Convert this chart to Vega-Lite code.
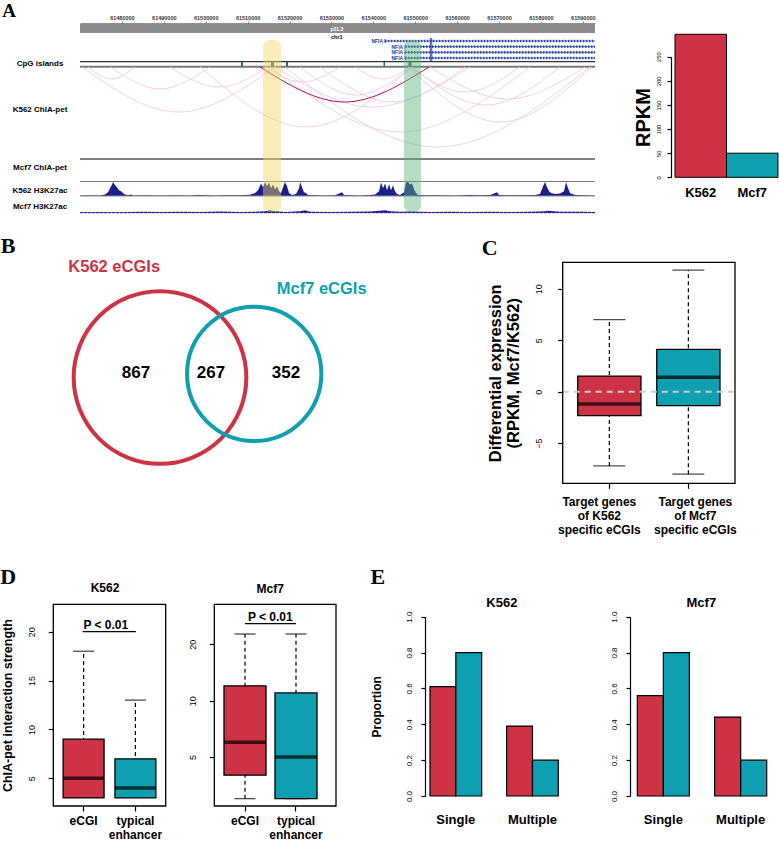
{
"$schema": "https://vega.github.io/schema/vega-lite/v6.json",
"width": 779, "height": 844, "autosize": "none", "padding": 0, "background": "white",
"config": {
  "view": {"stroke": null},
  "legend": {"disable": true},
  "font": "Liberation Sans",
  "axis": {"grid": false, "domain": false, "ticks": false, "labelFont": "Liberation Sans", "titleFont": "Liberation Sans", "domainColor": "black", "tickColor": "black", "labelColor": "black", "titleColor": "black", "domainWidth": 1.2, "tickWidth": 1.2},
  "text": {"font": "Liberation Sans", "fontWeight": "bold"}
},
"datasets": {
  "ideogram": [{"chrom": "chr1", "band": "p31.3", "start": 61470000, "end": 61592900}],
  "transcripts": [
    {"gene": "NFIA", "tx": "1", "start": 61542800, "end": 61592900},
    {"gene": "NFIA", "tx": "2", "start": 61547600, "end": 61592900},
    {"gene": "NFIA", "tx": "3", "start": 61547600, "end": 61592900},
    {"gene": "NFIA", "tx": "4", "start": 61547600, "end": 61592900}],
  "cpg": [
    {"start": 61508420, "end": 61508900}, {"start": 61515580, "end": 61516300},
    {"start": 61519160, "end": 61519640}, {"start": 61542430, "end": 61542790},
    {"start": 61548400, "end": 61549100}],
  "arcs": [
    {"arc": "a02", "strength": "weak", "pos": 61470480, "height": 0}, {"arc": "a02", "strength": "weak", "pos": 61493510, "height": 45}, {"arc": "a02", "strength": "weak", "pos": 61516540, "height": 0},
    {"arc": "a03", "strength": "weak", "pos": 61471910, "height": 0}, {"arc": "a03", "strength": "weak", "pos": 61477520, "height": 12}, {"arc": "a03", "strength": "weak", "pos": 61483130, "height": 0},
    {"arc": "a04", "strength": "weak", "pos": 61477160, "height": 0}, {"arc": "a04", "strength": "weak", "pos": 61489095, "height": 22}, {"arc": "a04", "strength": "weak", "pos": 61501030, "height": 0},
    {"arc": "a05", "strength": "weak", "pos": 61491480, "height": 0}, {"arc": "a05", "strength": "weak", "pos": 61503175, "height": 20}, {"arc": "a05", "strength": "weak", "pos": 61514870, "height": 0},
    {"arc": "a06", "strength": "weak", "pos": 61514150, "height": 0}, {"arc": "a06", "strength": "weak", "pos": 61523100, "height": 15}, {"arc": "a06", "strength": "weak", "pos": 61532050, "height": 0},
    {"arc": "a07", "strength": "weak", "pos": 61516540, "height": 0}, {"arc": "a07", "strength": "weak", "pos": 61539810, "height": 40}, {"arc": "a07", "strength": "weak", "pos": 61563080, "height": 0},
    {"arc": "a08", "strength": "weak", "pos": 61518930, "height": 0}, {"arc": "a08", "strength": "weak", "pos": 61555325, "height": 80}, {"arc": "a08", "strength": "weak", "pos": 61591720, "height": 0},
    {"arc": "a09", "strength": "weak", "pos": 61548760, "height": 0}, {"arc": "a09", "strength": "weak", "pos": 61561885, "height": 25}, {"arc": "a09", "strength": "weak", "pos": 61575010, "height": 0},
    {"arc": "a10", "strength": "weak", "pos": 61549240, "height": 0}, {"arc": "a10", "strength": "weak", "pos": 61566900, "height": 38}, {"arc": "a10", "strength": "weak", "pos": 61584560, "height": 0},
    {"arc": "a11", "strength": "weak", "pos": 61548280, "height": 0}, {"arc": "a11", "strength": "weak", "pos": 61570235, "height": 55}, {"arc": "a11", "strength": "weak", "pos": 61592190, "height": 0},
    {"arc": "a12", "strength": "weak", "pos": 61522510, "height": 0}, {"arc": "a12", "strength": "weak", "pos": 61535875, "height": 28}, {"arc": "a12", "strength": "weak", "pos": 61549240, "height": 0},
    {"arc": "a13", "strength": "weak", "pos": 61553530, "height": 0}, {"arc": "a13", "strength": "weak", "pos": 61572025, "height": 32}, {"arc": "a13", "strength": "weak", "pos": 61590520, "height": 0},
    {"arc": "a14", "strength": "weak", "pos": 61498640, "height": 0}, {"arc": "a14", "strength": "weak", "pos": 61523940, "height": 60}, {"arc": "a14", "strength": "weak", "pos": 61549240, "height": 0},
    {"arc": "a15", "strength": "weak", "pos": 61527280, "height": 0}, {"arc": "a15", "strength": "weak", "pos": 61544580, "height": 35}, {"arc": "a15", "strength": "weak", "pos": 61561880, "height": 0},
    {"arc": "a16", "strength": "weak", "pos": 61535630, "height": 0}, {"arc": "a16", "strength": "weak", "pos": 61542195, "height": 12}, {"arc": "a16", "strength": "weak", "pos": 61548760, "height": 0},
    {"arc": "a17", "strength": "weak", "pos": 61515350, "height": 0}, {"arc": "a17", "strength": "weak", "pos": 61546375, "height": 65}, {"arc": "a17", "strength": "weak", "pos": 61577400, "height": 0},
    {"arc": "z01", "strength": "strong", "pos": 61512960, "height": 0}, {"arc": "z01", "strength": "strong", "pos": 61533125, "height": 35}, {"arc": "z01", "strength": "strong", "pos": 61553290, "height": 0}],
  "k562_h3k27ac": [
    {"pos": 61470000, "signal": 0.5}, {"pos": 61472390, "signal": 0.8}, {"pos": 61474770, "signal": 0.6}, {"pos": 61475970, "signal": 1.5},
    {"pos": 61476680, "signal": 4}, {"pos": 61477160, "signal": 8}, {"pos": 61477640, "signal": 12}, {"pos": 61477880, "signal": 14.5},
    {"pos": 61478350, "signal": 11}, {"pos": 61478830, "signal": 9}, {"pos": 61479310, "signal": 6}, {"pos": 61479790, "signal": 5},
    {"pos": 61480260, "signal": 3}, {"pos": 61480740, "signal": 1.5}, {"pos": 61481460, "signal": 0.7}, {"pos": 61482170, "signal": 1.5},
    {"pos": 61482650, "signal": 0.5}, {"pos": 61485510, "signal": 0.8}, {"pos": 61489090, "signal": 0.5}, {"pos": 61492670, "signal": 0.8},
    {"pos": 61496250, "signal": 0.6}, {"pos": 61498640, "signal": 1}, {"pos": 61502220, "signal": 0.6}, {"pos": 61504610, "signal": 0.9},
    {"pos": 61508190, "signal": 0.7}, {"pos": 61510570, "signal": 1.2}, {"pos": 61511770, "signal": 3}, {"pos": 61512480, "signal": 6},
    {"pos": 61513200, "signal": 13}, {"pos": 61513680, "signal": 9}, {"pos": 61514150, "signal": 14.5}, {"pos": 61514630, "signal": 10},
    {"pos": 61515110, "signal": 14}, {"pos": 61515580, "signal": 8}, {"pos": 61516060, "signal": 12}, {"pos": 61516540, "signal": 7},
    {"pos": 61517020, "signal": 10}, {"pos": 61517490, "signal": 5}, {"pos": 61517970, "signal": 3}, {"pos": 61518450, "signal": 9},
    {"pos": 61518930, "signal": 14.5}, {"pos": 61519400, "signal": 10}, {"pos": 61519880, "signal": 3}, {"pos": 61520600, "signal": 1},
    {"pos": 61521550, "signal": 2}, {"pos": 61522270, "signal": 8}, {"pos": 61522510, "signal": 14.5}, {"pos": 61522980, "signal": 9},
    {"pos": 61523460, "signal": 4}, {"pos": 61523940, "signal": 3}, {"pos": 61524410, "signal": 1}, {"pos": 61526090, "signal": 0.8},
    {"pos": 61528470, "signal": 0.6}, {"pos": 61530860, "signal": 0.8}, {"pos": 61532530, "signal": 4}, {"pos": 61533010, "signal": 1},
    {"pos": 61534440, "signal": 0.8}, {"pos": 61536830, "signal": 0.6}, {"pos": 61539210, "signal": 1}, {"pos": 61540400, "signal": 1.5},
    {"pos": 61541360, "signal": 5}, {"pos": 61541840, "signal": 14}, {"pos": 61542310, "signal": 8}, {"pos": 61542790, "signal": 13},
    {"pos": 61543270, "signal": 6}, {"pos": 61543750, "signal": 12}, {"pos": 61544220, "signal": 6}, {"pos": 61544700, "signal": 11},
    {"pos": 61545180, "signal": 5}, {"pos": 61545660, "signal": 2}, {"pos": 61546370, "signal": 1}, {"pos": 61547330, "signal": 4},
    {"pos": 61547800, "signal": 14}, {"pos": 61548280, "signal": 14.5}, {"pos": 61548760, "signal": 12}, {"pos": 61549240, "signal": 13},
    {"pos": 61549710, "signal": 7}, {"pos": 61550190, "signal": 3}, {"pos": 61550670, "signal": 1}, {"pos": 61552340, "signal": 0.7},
    {"pos": 61555920, "signal": 0.8}, {"pos": 61559500, "signal": 0.6}, {"pos": 61563080, "signal": 1}, {"pos": 61565460, "signal": 0.8},
    {"pos": 61567850, "signal": 1}, {"pos": 61569520, "signal": 4}, {"pos": 61570000, "signal": 1}, {"pos": 61571430, "signal": 0.8},
    {"pos": 61575010, "signal": 0.8}, {"pos": 61578590, "signal": 1}, {"pos": 61579780, "signal": 2}, {"pos": 61580500, "signal": 10},
    {"pos": 61580980, "signal": 14.5}, {"pos": 61581450, "signal": 9}, {"pos": 61581930, "signal": 5}, {"pos": 61582410, "signal": 3},
    {"pos": 61583360, "signal": 2}, {"pos": 61584560, "signal": 2.5}, {"pos": 61585510, "signal": 5}, {"pos": 61585990, "signal": 14.5},
    {"pos": 61586470, "signal": 8}, {"pos": 61586940, "signal": 3}, {"pos": 61588140, "signal": 1}, {"pos": 61590520, "signal": 0.8},
    {"pos": 61592900, "signal": 0.5}],
  "mcf7_h3k27ac": [
    {"pos": 61470000, "signal": 0.5}, {"pos": 61474770, "signal": 0.8}, {"pos": 61479550, "signal": 0.5}, {"pos": 61484320, "signal": 1},
    {"pos": 61489090, "signal": 0.6}, {"pos": 61493870, "signal": 1}, {"pos": 61498640, "signal": 0.7}, {"pos": 61503410, "signal": 1.2},
    {"pos": 61508190, "signal": 0.8}, {"pos": 61511770, "signal": 1}, {"pos": 61514150, "signal": 1.5}, {"pos": 61515350, "signal": 2.5},
    {"pos": 61516540, "signal": 1.5}, {"pos": 61518930, "signal": 0.8}, {"pos": 61522510, "signal": 1.5}, {"pos": 61523700, "signal": 2.5},
    {"pos": 61524890, "signal": 1}, {"pos": 61529670, "signal": 0.8}, {"pos": 61534440, "signal": 1}, {"pos": 61539210, "signal": 1.2},
    {"pos": 61541600, "signal": 2}, {"pos": 61542790, "signal": 2.5}, {"pos": 61543980, "signal": 1.5}, {"pos": 61546370, "signal": 1},
    {"pos": 61548760, "signal": 1.2}, {"pos": 61553530, "signal": 0.8}, {"pos": 61558300, "signal": 1}, {"pos": 61563080, "signal": 0.8},
    {"pos": 61567850, "signal": 1}, {"pos": 61572620, "signal": 0.8}, {"pos": 61577400, "signal": 1}, {"pos": 61580980, "signal": 1.5},
    {"pos": 61581690, "signal": 2}, {"pos": 61584560, "signal": 1}, {"pos": 61589330, "signal": 1}, {"pos": 61592900, "signal": 0.6}],
  "highlights": [
    {"highlight": "eCGI", "start": 61513680, "end": 61517970},
    {"highlight": "NFIA promoter", "start": 61547330, "end": 61551380}],
  "rpkm": [{"cell": "K562", "rpkm": 296.5}, {"cell": "Mcf7", "rpkm": 50}],
  "venn_sets": [{"set": "K562 eCGIs", "cell": "K562", "total": 1134}, {"set": "Mcf7 eCGIs", "cell": "Mcf7", "total": 619}],
  "venn_regions": [{"region": "K562 only", "count": 867}, {"region": "K562 and Mcf7", "count": 267}, {"region": "Mcf7 only", "count": 352}],
  "diffexp": [
    {"group": "Target genes of K562 specific eCGIs", "cell": "K562", "lower": -7.2, "q1": -2.33, "median": -1.2, "q3": 1.52, "upper": 7.0},
    {"group": "Target genes of Mcf7 specific eCGIs", "cell": "Mcf7", "lower": -8.0, "q1": -1.36, "median": 1.4, "q3": 4.1, "upper": 11.8}],
  "chia_k562": [
    {"type": "eCGI", "lower": 3, "q1": 3, "median": 5, "q3": 9, "upper": 18},
    {"type": "typical enhancer", "lower": 3, "q1": 3, "median": 4, "q3": 7, "upper": 13}],
  "chia_mcf7": [
    {"type": "eCGI", "lower": 3, "q1": 4, "median": 6, "q3": 12, "upper": 22.7},
    {"type": "typical enhancer", "lower": 3, "q1": 3, "median": 5, "q3": 11, "upper": 22.7}],
  "targets_k562": [
    {"targets": "Single", "type": "eCGI", "proportion": 0.61}, {"targets": "Single", "type": "typical enhancer", "proportion": 0.8},
    {"targets": "Multiple", "type": "eCGI", "proportion": 0.39}, {"targets": "Multiple", "type": "typical enhancer", "proportion": 0.2}],
  "targets_mcf7": [
    {"targets": "Single", "type": "eCGI", "proportion": 0.56}, {"targets": "Single", "type": "typical enhancer", "proportion": 0.8},
    {"targets": "Multiple", "type": "eCGI", "proportion": 0.44}, {"targets": "Multiple", "type": "typical enhancer", "proportion": 0.2}]
},
"layer": [
  {"data": {"name": "ideogram"}, "mark": {"type": "rect", "color": "#8c8c8c"},
   "encoding": {
     "x": {"field": "start", "type": "quantitative", "scale": {"domain": [61470000, 61592900], "range": [80, 595], "nice": false, "zero": false},
           "axis": {"orient": "top", "offset": -23, "values": [61480000, 61490000, 61500000, 61510000, 61520000, 61530000, 61540000, 61550000, 61560000, 61570000, 61580000, 61590000], "format": "d", "labelFontSize": 5.5, "labelFontWeight": "bold", "labelColor": "#333333", "domain": true, "ticks": true, "tickSize": 2, "domainWidth": 0.6, "tickWidth": 0.6, "domainColor": "#444444", "tickColor": "#444444", "labelPadding": 1, "labelFlush": false, "labelOverlap": false, "title": null}},
     "x2": {"field": "end"},
     "y": {"datum": 0, "type": "quantitative", "scale": {"domain": [0, 1], "range": [33, 24], "nice": false, "zero": false}, "axis": null},
     "y2": {"datum": 1}}},
  {
    "layer": [
      {"data": {"name": "ideogram"}, "layer": [
        {"mark": {"type": "text", "color": "white", "fontSize": 5}, "encoding": {"text": {"field": "band"},
           "x": {"datum": 61531300, "type": "quantitative", "scale": {"domain": [61470000, 61592900], "range": [80, 595], "nice": false, "zero": false}, "axis": null},
           "y": {"datum": 0.5, "type": "quantitative", "scale": {"domain": [0, 1], "range": [33, 24], "nice": false, "zero": false}, "axis": null}}},
        {"mark": {"type": "text", "color": "black", "fontSize": 5.5}, "encoding": {"text": {"field": "chrom"}, "x": {"datum": 61531300, "axis": null}, "y": {"datum": -0.4, "axis": null}}},
        {"mark": {"type": "text", "font": "Liberation Serif", "fontSize": 19, "dx": -71}, "encoding": {"text": {"value": "A"}, "x": {"datum": 61470000, "axis": null}, "y": {"datum": 2.4, "axis": null}}}
      ]},
      {"data": {"name": "transcripts"}, "layer": [
        {"mark": {"type": "rule", "color": "#23409e", "strokeWidth": 0.8},
         "encoding": {"x": {"field": "start", "type": "quantitative", "axis": null}, "x2": {"field": "end"},
           "y": {"field": "tx", "type": "ordinal", "scale": {"type": "point", "domain": ["1", "2", "3", "4"], "range": [41, 58], "padding": 0}, "axis": null}}},
        {"mark": {"type": "rule", "color": "#23409e", "strokeWidth": 2.6, "strokeDash": [1.2, 1.8]},
         "encoding": {"x": {"field": "start", "type": "quantitative", "axis": null}, "x2": {"field": "end"}, "y": {"field": "tx", "type": "ordinal", "axis": null}}},
        {"mark": {"type": "tick", "color": "#1f3fb0", "size": 6, "thickness": 2.5},
         "encoding": {"x": {"datum": 61553770, "axis": null}, "y": {"field": "tx", "type": "ordinal", "axis": null}}},
        {"mark": {"type": "tick", "color": "#1f3fb0", "size": 4, "thickness": 1.5},
         "encoding": {"x": {"field": "start", "type": "quantitative", "axis": null}, "y": {"field": "tx", "type": "ordinal", "axis": null}}},
        {"mark": {"type": "text", "color": "#23409e", "fontSize": 5, "align": "right", "dx": -2},
         "encoding": {"text": {"field": "gene"}, "x": {"field": "start", "type": "quantitative", "axis": null}, "y": {"field": "tx", "type": "ordinal", "axis": null}}}
      ]},
      {"layer": [
        {"data": {"values": [{}]}, "mark": {"type": "rule", "color": "#777777", "strokeWidth": 2},
         "encoding": {"x": {"datum": 61470000, "axis": null}, "x2": {"datum": 61592900}, "y": {"datum": 0, "type": "quantitative", "scale": {"domain": [0, 1], "range": [66.7, 61.7], "nice": false, "zero": false}, "axis": null}}},
        {"data": {"values": [{}]}, "mark": {"type": "rule", "color": "black", "strokeWidth": 1},
         "encoding": {"x": {"datum": 61470000, "axis": null}, "x2": {"datum": 61592900}, "y": {"datum": 1, "axis": null}}},
        {"data": {"name": "cpg"}, "mark": {"type": "rect", "color": "#2e6b6b"},
         "encoding": {"x": {"field": "start", "type": "quantitative", "axis": null}, "x2": {"field": "end"}, "y": {"datum": 0.05, "axis": null}, "y2": {"datum": 0.95}}},
        {"data": {"values": [{}]}, "mark": {"type": "text", "fontSize": 8, "dx": -40},
         "encoding": {"text": {"value": "CpG islands"}, "x": {"datum": 61470000, "axis": null}, "y": {"datum": 0.5, "axis": null}}}
      ]},
      {"layer": [
        {"data": {"name": "arcs"}, "mark": {"type": "line", "interpolate": "natural", "strokeWidth": 1},
         "encoding": {"x": {"field": "pos", "type": "quantitative", "axis": null},
           "y": {"field": "height", "type": "quantitative", "scale": {"domain": [0, 100], "range": [67, 167], "nice": false, "zero": false}, "axis": null},
           "detail": {"field": "arc", "type": "nominal"},
           "color": {"field": "strength", "type": "nominal", "scale": {"domain": ["K562", "Mcf7", "eCGI", "typical enhancer", "strong", "weak"], "range": ["#cd3344", "#0e9fb0", "#cd3344", "#0e9fb0", "#b3124e", "#f1d0e4"]}}}},
        {"data": {"values": [{}]}, "mark": {"type": "text", "fontSize": 8, "dx": -40},
         "encoding": {"text": {"value": "K562 ChIA-pet"}, "x": {"datum": 61470000, "axis": null}, "y": {"datum": 43, "axis": null}}}
      ]},
      {"data": {"values": [{}]}, "layer": [
        {"mark": {"type": "rule", "color": "black", "strokeWidth": 1},
         "encoding": {"x": {"datum": 61470000, "axis": null}, "x2": {"datum": 61592900}, "y": {"datum": 0, "type": "quantitative", "scale": {"domain": [0, 1], "range": [159, 180], "nice": false, "zero": false}, "axis": null}}},
        {"mark": {"type": "text", "fontSize": 8, "dx": -40},
         "encoding": {"text": {"value": "Mcf7 ChIA-pet"}, "x": {"datum": 61470000, "axis": null}, "y": {"datum": 0.43, "axis": null}}}
      ]},
      {"layer": [
        {"data": {"values": [{}]}, "mark": {"type": "rule", "color": "#777777", "strokeWidth": 1},
         "encoding": {"x": {"datum": 61470000, "axis": null}, "x2": {"datum": 61592900}, "y": {"datum": 15, "type": "quantitative", "scale": {"domain": [0, 15], "range": [196, 181.5], "nice": false, "zero": false}, "axis": null}}},
        {"data": {"name": "k562_h3k27ac"}, "mark": {"type": "area", "color": "#1b1f8a", "interpolate": "linear"},
         "encoding": {"x": {"field": "pos", "type": "quantitative", "axis": null}, "y": {"field": "signal", "type": "quantitative", "axis": null}, "y2": {"datum": 0}}},
        {"data": {"values": [{}]}, "mark": {"type": "rule", "color": "#8a8a9a", "strokeWidth": 1},
         "encoding": {"x": {"datum": 61470000, "axis": null}, "x2": {"datum": 61592900}, "y": {"datum": 0, "axis": null}}},
        {"data": {"values": [{}]}, "mark": {"type": "text", "fontSize": 8, "dx": -40},
         "encoding": {"text": {"value": "K562 H3K27ac"}, "x": {"datum": 61470000, "axis": null}, "y": {"datum": 5.2, "axis": null}}}
      ]},
      {"layer": [
        {"data": {"name": "mcf7_h3k27ac"}, "mark": {"type": "area", "color": "#1b1f8a", "interpolate": "linear"},
         "encoding": {"x": {"field": "pos", "type": "quantitative", "axis": null}, "y": {"field": "signal", "type": "quantitative", "scale": {"domain": [0, 15], "range": [212.7, 198], "nice": false, "zero": false}, "axis": null}, "y2": {"datum": 0}}},
        {"data": {"values": [{}]}, "mark": {"type": "rule", "color": "#1b1f8a", "strokeWidth": 1, "strokeDash": [3, 1]},
         "encoding": {"x": {"datum": 61470000, "axis": null}, "x2": {"datum": 61592900}, "y": {"datum": 0, "axis": null}}},
        {"data": {"values": [{}]}, "mark": {"type": "text", "fontSize": 8, "dx": -40},
         "encoding": {"text": {"value": "Mcf7 H3K27ac"}, "x": {"datum": 61470000, "axis": null}, "y": {"datum": 5.8, "axis": null}}}
      ]},
      {"data": {"name": "highlights"}, "mark": {"type": "rect", "fillOpacity": 0.45, "cornerRadius": 7},
       "encoding": {"x": {"field": "start", "type": "quantitative", "axis": null}, "x2": {"field": "end"},
         "y": {"datum": 0, "type": "quantitative", "scale": {"domain": [0, 1], "range": [212, 40], "nice": false, "zero": false}, "axis": null}, "y2": {"datum": 1},
         "fill": {"field": "highlight", "type": "nominal", "scale": {"domain": ["eCGI", "NFIA promoter"], "range": ["#f0d860", "#5cb47c"]}}}}
    ],
    "resolve": {"scale": {"y": "independent"}, "axis": {"y": "independent"}}
  },
  {"data": {"name": "rpkm"}, "mark": {"type": "bar", "stroke": "black", "strokeWidth": 1},
   "encoding": {
     "x": {"field": "cell", "type": "nominal", "scale": {"type": "band", "domain": ["K562", "Mcf7"], "range": [675, 778], "paddingInner": 0, "paddingOuter": 0},
           "axis": {"orient": "bottom", "offset": -666.7, "labelAngle": 0, "labelFontSize": 13, "labelFontWeight": "bold", "labelPadding": 9, "title": null}},
     "y": {"field": "rpkm", "type": "quantitative", "scale": {"domain": [0, 250], "range": [177.3, 56.7], "nice": false, "zero": false},
           "axis": {"orient": "left", "offset": -671, "values": [0, 50, 100, 150, 200, 250], "domain": true, "ticks": true, "tickSize": 4, "labelAngle": -90, "labelFontSize": 6, "labelPadding": 6, "title": "RPKM", "titleFontSize": 20, "titleFontWeight": "bold", "titlePadding": 2}},
     "y2": {"datum": 0},
     "color": {"field": "cell", "type": "nominal", "scale": {"domain": ["K562", "Mcf7", "eCGI", "typical enhancer", "strong", "weak"], "range": ["#cd3344", "#0e9fb0", "#cd3344", "#0e9fb0", "#b3124e", "#f1d0e4"]}}}},
  {
    "layer": [
      {"data": {"name": "venn_sets"}, "layer": [
        {"mark": {"type": "point", "filled": false, "strokeWidth": 4, "opacity": 1, "shape": "circle"},
         "encoding": {
           "x": {"field": "set", "type": "nominal", "scale": {"type": "point", "domain": ["K562 eCGIs", "Mcf7 eCGIs"], "range": [160, 254.2], "padding": 0}, "axis": null},
           "y": {"field": "set", "type": "nominal", "scale": {"type": "point", "domain": ["K562 eCGIs", "Mcf7 eCGIs"], "range": [377.5, 373.8], "padding": 0}, "axis": null},
           "size": {"field": "total", "type": "quantitative", "scale": {"type": "linear", "domain": [619, 1134], "range": [18045, 29813], "zero": false, "nice": false}},
           "color": {"field": "cell", "type": "nominal", "scale": {"domain": ["K562", "Mcf7", "eCGI", "typical enhancer", "strong", "weak"], "range": ["#cd3344", "#0e9fb0", "#cd3344", "#0e9fb0", "#b3124e", "#f1d0e4"]}}}},
        {"data": {"values": [{}]}, "mark": {"type": "text", "font": "Liberation Serif", "fontSize": 22, "dx": -152, "dy": -132},
         "encoding": {"text": {"value": "B"}, "x": {"datum": "K562 eCGIs", "axis": null}, "y": {"datum": "K562 eCGIs", "axis": null}}}
      ]},
      {"data": {"name": "venn_sets"}, "mark": {"type": "text", "fontSize": 16.5},
       "encoding": {"text": {"field": "set"},
         "x": {"field": "set", "type": "nominal", "scale": {"type": "point", "domain": ["K562 eCGIs", "Mcf7 eCGIs"], "range": [114.2, 321.7], "padding": 0}, "axis": null},
         "y": {"field": "set", "type": "nominal", "scale": {"type": "point", "domain": ["K562 eCGIs", "Mcf7 eCGIs"], "range": [266.7, 289], "padding": 0}, "axis": null},
         "color": {"field": "cell", "type": "nominal", "scale": {"domain": ["K562", "Mcf7", "eCGI", "typical enhancer", "strong", "weak"], "range": ["#cd3344", "#0e9fb0", "#cd3344", "#0e9fb0", "#b3124e", "#f1d0e4"]}}}},
      {"data": {"name": "venn_regions"}, "mark": {"type": "text", "fontSize": 17, "color": "black"},
       "encoding": {"text": {"field": "count", "type": "quantitative"},
         "x": {"field": "region", "type": "nominal", "scale": {"type": "point", "domain": ["K562 only", "K562 and Mcf7", "Mcf7 only"], "range": [136, 286], "padding": 0}, "axis": null},
         "y": {"field": "region", "type": "nominal", "scale": {"type": "point", "domain": ["K562 only", "K562 and Mcf7", "Mcf7 only"], "range": [373.3, 373.3], "padding": 0}, "axis": null}}}
    ],
    "resolve": {"scale": {"x": "independent", "y": "independent"}}
  },
  {"data": {"name": "diffexp"}, "mark": {"type": "rule", "color": "black", "strokeWidth": 1.2, "strokeDash": [4, 3]},
   "encoding": {
     "x": {"field": "group", "type": "nominal", "scale": {"type": "band", "domain": ["Target genes of K562 specific eCGIs", "Target genes of Mcf7 specific eCGIs"], "range": [562.7, 735], "paddingInner": 0.2, "paddingOuter": 0.19},
           "axis": {"orient": "bottom", "offset": -360.7, "ticks": true, "tickSize": 5, "labelAngle": 0, "labelFontSize": 12, "labelFontWeight": "bold", "labelPadding": 8, "labelLineHeight": 14,
                    "labelOffset": {"condition": {"test": "datum.value == 'Target genes of K562 specific eCGIs'", "value": -10}, "value": 7},
                    "labelExpr": "split(replace(replace(datum.value, ' of ', '|of '), ' specific', '|specific'), '|')", "title": null}},
     "y": {"field": "lower", "type": "quantitative", "scale": {"domain": [-8.89, 12.56], "range": [483.3, 262.3], "nice": false, "zero": false},
           "axis": {"orient": "left", "offset": -562.7, "values": [-5, 0, 5, 10], "ticks": true, "tickSize": 5, "labelAngle": -90, "labelFontSize": 9, "labelPadding": 14, "title": ["Differential expression", "(RPKM, Mcf7/K562)"], "titleFontSize": 16.5, "titleFontWeight": "bold", "titlePadding": 13, "titleLineHeight": 18}},
     "y2": {"field": "upper"}}},
  {
    "layer": [
      {"data": {"name": "diffexp"}, "layer": [
        {"mark": {"type": "tick", "color": "black", "size": 32, "thickness": 1.3},
         "encoding": {"x": {"field": "group", "type": "nominal", "scale": {"type": "band", "domain": ["Target genes of K562 specific eCGIs", "Target genes of Mcf7 specific eCGIs"], "range": [562.7, 735], "paddingInner": 0.2, "paddingOuter": 0.19}, "axis": null},
           "y": {"field": "lower", "type": "quantitative", "scale": {"domain": [-8.89, 12.56], "range": [483.3, 262.3], "nice": false, "zero": false}, "axis": null}}},
        {"mark": {"type": "tick", "color": "black", "size": 32, "thickness": 1.3},
         "encoding": {"x": {"field": "group", "type": "nominal", "axis": null}, "y": {"field": "upper", "type": "quantitative", "axis": null}}},
        {"mark": {"type": "bar", "stroke": "black", "strokeWidth": 1.3},
         "encoding": {"x": {"field": "group", "type": "nominal", "axis": null}, "y": {"field": "q1", "type": "quantitative", "axis": null}, "y2": {"field": "q3"},
           "color": {"field": "cell", "type": "nominal", "scale": {"domain": ["K562", "Mcf7", "eCGI", "typical enhancer", "strong", "weak"], "range": ["#cd3344", "#0e9fb0", "#cd3344", "#0e9fb0", "#b3124e", "#f1d0e4"]}}}},
        {"mark": {"type": "tick", "color": "black", "size": 63, "thickness": 3.5},
         "encoding": {"x": {"field": "group", "type": "nominal", "axis": null}, "y": {"field": "median", "type": "quantitative", "axis": null}}}
      ]},
      {"data": {"values": [{}]}, "layer": [
        {"mark": {"type": "rule", "color": "#cccccc", "strokeWidth": 2, "strokeDash": [6, 5]},
         "encoding": {"x": {"datum": 0, "type": "quantitative", "scale": {"domain": [0, 1], "range": [562.7, 735], "nice": false, "zero": false}, "axis": null}, "x2": {"datum": 1}, "y": {"datum": 0, "axis": null}}},
        {"mark": {"type": "rect", "fillOpacity": 0, "stroke": "black", "strokeWidth": 1.3},
         "encoding": {"x": {"datum": 0, "axis": null}, "x2": {"datum": 1}, "y": {"datum": -8.89, "axis": null}, "y2": {"datum": 12.56}}},
        {"mark": {"type": "text", "font": "Liberation Serif", "fontSize": 22, "dx": -73, "dy": -14},
         "encoding": {"text": {"value": "C"}, "x": {"datum": 0, "axis": null}, "y": {"datum": 12.56, "axis": null}}}
      ]}
    ],
    "resolve": {"scale": {"x": "independent"}, "axis": {"x": "independent"}}
  },
  {"data": {"name": "chia_k562"}, "mark": {"type": "rule", "color": "black", "strokeWidth": 1.2, "strokeDash": [4, 3]},
   "encoding": {
     "x": {"field": "type", "type": "nominal", "scale": {"type": "band", "domain": ["eCGI", "typical enhancer"], "range": [53.3, 165.7], "paddingInner": 0.21, "paddingOuter": 0.19},
           "axis": {"orient": "bottom", "offset": -38, "ticks": true, "tickSize": 5, "labelAngle": 0, "labelFontSize": 12, "labelFontWeight": "bold", "labelPadding": 4, "labelLineHeight": 14, "labelExpr": "split(datum.value, ' ')", "title": null}},
     "y": {"field": "lower", "type": "quantitative", "scale": {"domain": [2.17, 22.8], "range": [806, 604.3], "nice": false, "zero": false},
           "axis": {"orient": "left", "offset": -53.3, "values": [5, 10, 15, 20], "ticks": true, "tickSize": 5, "labelAngle": -90, "labelFontSize": 9, "labelPadding": 12, "title": "ChIA-pet interaction strength", "titleFontSize": 12.5, "titleFontWeight": "bold", "titlePadding": 13}},
     "y2": {"field": "upper"}}},
  {
    "layer": [
      {"data": {"name": "chia_k562"}, "layer": [
        {"mark": {"type": "tick", "color": "black", "size": 21, "thickness": 1.3},
         "encoding": {"x": {"field": "type", "type": "nominal", "scale": {"type": "band", "domain": ["eCGI", "typical enhancer"], "range": [53.3, 165.7], "paddingInner": 0.21, "paddingOuter": 0.19}, "axis": null},
           "y": {"field": "upper", "type": "quantitative", "scale": {"domain": [2.17, 22.8], "range": [806, 604.3], "nice": false, "zero": false}, "axis": null}}},
        {"mark": {"type": "bar", "stroke": "black", "strokeWidth": 1.3},
         "encoding": {"x": {"field": "type", "type": "nominal", "axis": null}, "y": {"field": "q1", "type": "quantitative", "axis": null}, "y2": {"field": "q3"},
           "color": {"field": "type", "type": "nominal", "scale": {"domain": ["K562", "Mcf7", "eCGI", "typical enhancer", "strong", "weak"], "range": ["#cd3344", "#0e9fb0", "#cd3344", "#0e9fb0", "#b3124e", "#f1d0e4"]}}}},
        {"mark": {"type": "tick", "color": "black", "size": 41, "thickness": 3.5},
         "encoding": {"x": {"field": "type", "type": "nominal", "axis": null}, "y": {"field": "median", "type": "quantitative", "axis": null}}}
      ]},
      {"data": {"values": [{}]}, "layer": [
        {"mark": {"type": "rect", "fillOpacity": 0, "stroke": "black", "strokeWidth": 1.3},
         "encoding": {"x": {"datum": 0, "type": "quantitative", "scale": {"domain": [0, 1], "range": [53.3, 165.7], "nice": false, "zero": false}, "axis": null}, "x2": {"datum": 1}, "y": {"datum": 2.17, "axis": null}, "y2": {"datum": 22.8}}},
        {"mark": {"type": "rule", "color": "black", "strokeWidth": 1.2},
         "encoding": {"x": {"datum": 0.262, "axis": null}, "x2": {"datum": 0.734}, "y": {"datum": 20, "axis": null}}},
        {"mark": {"type": "text", "fontSize": 12, "dy": -7},
         "encoding": {"text": {"value": "P < 0.01"}, "x": {"datum": 0.467, "axis": null}, "y": {"datum": 20, "axis": null}}},
        {"mark": {"type": "text", "fontSize": 12, "dy": -16},
         "encoding": {"text": {"value": "K562"}, "x": {"datum": 0.46, "axis": null}, "y": {"datum": 22.8, "axis": null}}},
        {"mark": {"type": "text", "font": "Liberation Serif", "fontSize": 22, "dx": -45, "dy": -27},
         "encoding": {"text": {"value": "D"}, "x": {"datum": 0, "axis": null}, "y": {"datum": 22.8, "axis": null}}}
      ]}
    ],
    "resolve": {"scale": {"x": "independent"}, "axis": {"x": "independent"}}
  },
  {"data": {"name": "chia_mcf7"}, "mark": {"type": "rule", "color": "black", "strokeWidth": 1.2, "strokeDash": [4, 3]},
   "encoding": {
     "x": {"field": "type", "type": "nominal", "scale": {"type": "band", "domain": ["eCGI", "typical enhancer"], "range": [214.3, 326.7], "paddingInner": 0.176, "paddingOuter": 0.19},
           "axis": {"orient": "bottom", "offset": -38, "ticks": true, "tickSize": 5, "labelAngle": 0, "labelFontSize": 12, "labelFontWeight": "bold", "labelPadding": 4, "labelLineHeight": 14, "labelExpr": "split(datum.value, ' ')", "title": null}},
     "y": {"field": "lower", "type": "quantitative", "scale": {"type": "log", "domain": [2.74, 32.7], "range": [806, 604.3], "nice": false, "zero": false},
           "axis": {"orient": "left", "offset": -214.3, "values": [5, 10, 20], "ticks": true, "tickSize": 5, "labelAngle": -90, "labelFontSize": 9, "labelPadding": 12, "title": null}},
     "y2": {"field": "upper"}}},
  {
    "layer": [
      {"data": {"name": "chia_mcf7"}, "layer": [
        {"mark": {"type": "tick", "color": "black", "size": 21, "thickness": 1.3},
         "encoding": {"x": {"field": "type", "type": "nominal", "scale": {"type": "band", "domain": ["eCGI", "typical enhancer"], "range": [214.3, 326.7], "paddingInner": 0.176, "paddingOuter": 0.19}, "axis": null},
           "y": {"field": "upper", "type": "quantitative", "scale": {"type": "log", "domain": [2.74, 32.7], "range": [806, 604.3], "nice": false, "zero": false}, "axis": null}}},
        {"mark": {"type": "tick", "color": "black", "size": 21, "thickness": 1.3},
         "encoding": {"x": {"field": "type", "type": "nominal", "axis": null}, "y": {"field": "lower", "type": "quantitative", "axis": null}}},
        {"mark": {"type": "bar", "stroke": "black", "strokeWidth": 1.3},
         "encoding": {"x": {"field": "type", "type": "nominal", "axis": null}, "y": {"field": "q1", "type": "quantitative", "axis": null}, "y2": {"field": "q3"},
           "color": {"field": "type", "type": "nominal", "scale": {"domain": ["K562", "Mcf7", "eCGI", "typical enhancer", "strong", "weak"], "range": ["#cd3344", "#0e9fb0", "#cd3344", "#0e9fb0", "#b3124e", "#f1d0e4"]}}}},
        {"mark": {"type": "tick", "color": "black", "size": 42, "thickness": 3.5},
         "encoding": {"x": {"field": "type", "type": "nominal", "axis": null}, "y": {"field": "median", "type": "quantitative", "axis": null}}}
      ]},
      {"data": {"values": [{}]}, "layer": [
        {"mark": {"type": "rect", "fillOpacity": 0, "stroke": "black", "strokeWidth": 1.3},
         "encoding": {"x": {"datum": 0, "type": "quantitative", "scale": {"domain": [0, 1], "range": [214.3, 336], "nice": false, "zero": false}, "axis": null}, "x2": {"datum": 1}, "y": {"datum": 2.74, "axis": null}, "y2": {"datum": 32.7}}},
        {"mark": {"type": "rule", "color": "black", "strokeWidth": 1.2},
         "encoding": {"x": {"datum": 0.252, "axis": null}, "x2": {"datum": 0.671}, "y": {"datum": 25.8, "axis": null}}},
        {"mark": {"type": "text", "fontSize": 12, "dy": -7},
         "encoding": {"text": {"value": "P < 0.01"}, "x": {"datum": 0.46, "axis": null}, "y": {"datum": 25.8, "axis": null}}},
        {"mark": {"type": "text", "fontSize": 12, "dy": -15},
         "encoding": {"text": {"value": "Mcf7"}, "x": {"datum": 0.46, "axis": null}, "y": {"datum": 32.7, "axis": null}}}
      ]}
    ],
    "resolve": {"scale": {"x": "independent"}, "axis": {"x": "independent"}}
  },
  {"data": {"name": "targets_k562"}, "mark": {"type": "bar", "stroke": "black", "strokeWidth": 1.2},
   "encoding": {
     "x": {"field": "targets", "type": "nominal", "scale": {"type": "band", "domain": ["Single", "Multiple"], "range": [430, 558.3], "paddingInner": 0.326, "paddingOuter": 0},
           "axis": {"orient": "bottom", "offset": -48, "labelAngle": 0, "labelFontSize": 13, "labelFontWeight": "bold", "labelPadding": 17, "title": null}},
     "xOffset": {"field": "type", "type": "nominal", "scale": {"domain": ["eCGI", "typical enhancer"], "paddingInner": 0, "paddingOuter": 0}},
     "y": {"field": "proportion", "type": "quantitative", "scale": {"domain": [0, 1], "range": [796, 616.7], "nice": false, "zero": false},
           "axis": {"orient": "left", "offset": -425, "values": [0, 0.2, 0.4, 0.6, 0.8, 1], "format": ".1f", "domain": true, "ticks": true, "tickSize": 4, "labelAngle": -90, "labelFontSize": 8, "labelPadding": 8, "title": "Proportion", "titleFontSize": 12, "titleFontWeight": "bold", "titlePadding": 22}},
     "y2": {"datum": 0},
     "color": {"field": "type", "type": "nominal", "scale": {"domain": ["K562", "Mcf7", "eCGI", "typical enhancer", "strong", "weak"], "range": ["#cd3344", "#0e9fb0", "#cd3344", "#0e9fb0", "#b3124e", "#f1d0e4"]}}}},
  {"data": {"values": [{}]}, "layer": [
    {"mark": {"type": "text", "fontSize": 13, "dx": 46, "dy": -14},
     "encoding": {"text": {"value": "K562"},
       "x": {"datum": "Single", "scale": {"type": "band", "domain": ["Single", "Multiple"], "range": [430, 558.3], "paddingInner": 0.326, "paddingOuter": 0}, "axis": null},
       "y": {"datum": 1, "type": "quantitative", "scale": {"domain": [0, 1], "range": [796, 616.7], "nice": false, "zero": false}, "axis": null}}},
    {"mark": {"type": "text", "font": "Liberation Serif", "fontSize": 22, "dx": -78, "dy": -40},
     "encoding": {"text": {"value": "E"}, "x": {"datum": "Single", "axis": null}, "y": {"datum": 1, "axis": null}}}
  ]},
  {"data": {"name": "targets_mcf7"}, "mark": {"type": "bar", "stroke": "black", "strokeWidth": 1.2},
   "encoding": {
     "x": {"field": "targets", "type": "nominal", "scale": {"type": "band", "domain": ["Single", "Multiple"], "range": [637.3, 766.7], "paddingInner": 0.326, "paddingOuter": 0},
           "axis": {"orient": "bottom", "offset": -48, "labelAngle": 0, "labelFontSize": 13, "labelFontWeight": "bold", "labelPadding": 17, "title": null}},
     "xOffset": {"field": "type", "type": "nominal", "scale": {"domain": ["eCGI", "typical enhancer"], "paddingInner": 0, "paddingOuter": 0}},
     "y": {"field": "proportion", "type": "quantitative", "scale": {"domain": [0, 1], "range": [796, 616.7], "nice": false, "zero": false},
           "axis": {"orient": "left", "offset": -630, "values": [0, 0.2, 0.4, 0.6, 0.8, 1], "format": ".1f", "domain": true, "ticks": true, "tickSize": 4, "labelAngle": -90, "labelFontSize": 8, "labelPadding": 8, "title": null}},
     "y2": {"datum": 0},
     "color": {"field": "type", "type": "nominal", "scale": {"domain": ["K562", "Mcf7", "eCGI", "typical enhancer", "strong", "weak"], "range": ["#cd3344", "#0e9fb0", "#cd3344", "#0e9fb0", "#b3124e", "#f1d0e4"]}}}},
  {"data": {"values": [{}]}, "mark": {"type": "text", "fontSize": 13, "dx": 38, "dy": -14},
   "encoding": {"text": {"value": "Mcf7"},
     "x": {"datum": "Single", "scale": {"type": "band", "domain": ["Single", "Multiple"], "range": [637.3, 766.7], "paddingInner": 0.326, "paddingOuter": 0}, "axis": null},
     "y": {"datum": 1, "type": "quantitative", "scale": {"domain": [0, 1], "range": [796, 616.7], "nice": false, "zero": false}, "axis": null}}}
],
"resolve": {"scale": {"x": "independent", "y": "independent", "size": "independent", "xOffset": "independent"}, "axis": {"x": "independent", "y": "independent"}}
}
